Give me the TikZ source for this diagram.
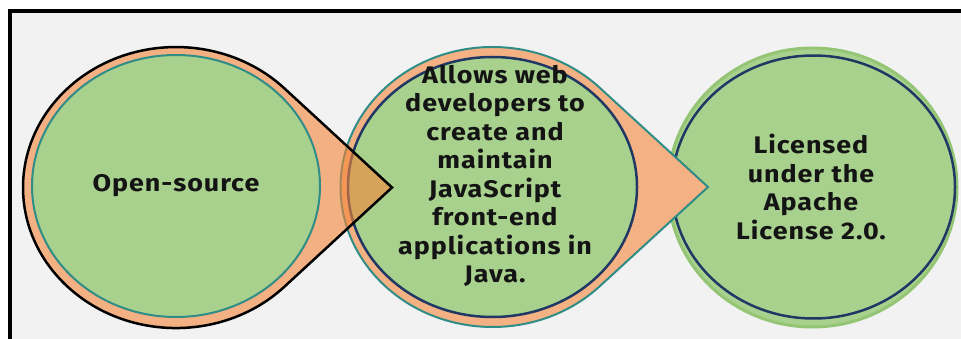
\documentclass[tikz,border=0pt]{standalone}
\usepackage{fontspec}
\setmainfont{Fira Sans}[LetterSpace=4, FakeStretch=1.12]
\definecolor{bg}{HTML}{F2F2F2}
\definecolor{peach}{HTML}{F4B183}
\definecolor{orng}{HTML}{F58539}
\definecolor{leaf}{HTML}{A9D18E}
\definecolor{leafedge}{HTML}{93C575}
\definecolor{tealline}{HTML}{2F8C86}
\definecolor{navyline}{HTML}{203864}
\definecolor{ink}{HTML}{141414}
\begin{document}
\begin{tikzpicture}[x=1pt,y=1pt,
  lbl/.style={font=\bfseries\fontsize{24}{28.5}\selectfont, align=center, text=ink, inner sep=0pt}]
\useasboundingbox (0,0) rectangle (961,338);
\begin{scope}
\clip (0,0) rectangle (961,338);
\fill[white] (0,0) rectangle (961,338);
\draw[line width=4pt, fill=bg] (9.5,327) rectangle (980,-20);
% circle 3
\draw[fill=leaf, draw=leafedge, line width=3pt] (812.5,150.5) ellipse [x radius=144.5pt, y radius=139.5pt];
\draw[navyline, line width=2.5pt] (813.5,151) ellipse [x radius=141.5pt, y radius=131.5pt];
% teardrop 2
\draw[tealline, line width=2pt, fill=peach] (708,151) -- (600,250) arc [start angle=45, end angle=315, x radius=152pt, y radius=140pt] -- cycle;
\draw[fill=leaf, draw=navyline, line width=2.5pt] (492.5,151) ellipse [x radius=144.5pt, y radius=130pt];
% teardrop 1 (semi-transparent)
\fill[orng, fill opacity=0.6] (392,150.5) -- (284.2,249.8) arc [start angle=45, end angle=315, x radius=153pt, y radius=140.5pt] -- cycle;
\draw[black, line width=2.5pt, line join=miter] (392,150.5) -- (284.2,249.8) arc [start angle=45, end angle=315, x radius=153pt, y radius=140.5pt] -- cycle;
\draw[fill=leaf, draw=tealline, line width=2pt] (176,152) ellipse [x radius=144pt, y radius=131pt];
\end{scope}
\node[lbl] (t1) at (176,152) {Open-source};
\node[lbl] (t2) at (495,162) {Allows web\\developers to\\create and\\maintain\\JavaScript\\front-end\\applications in\\Java.};
\node[lbl] (t3) at (811,151) {Licensed\\under the\\Apache\\License 2.0.};
\end{tikzpicture}
\end{document}
